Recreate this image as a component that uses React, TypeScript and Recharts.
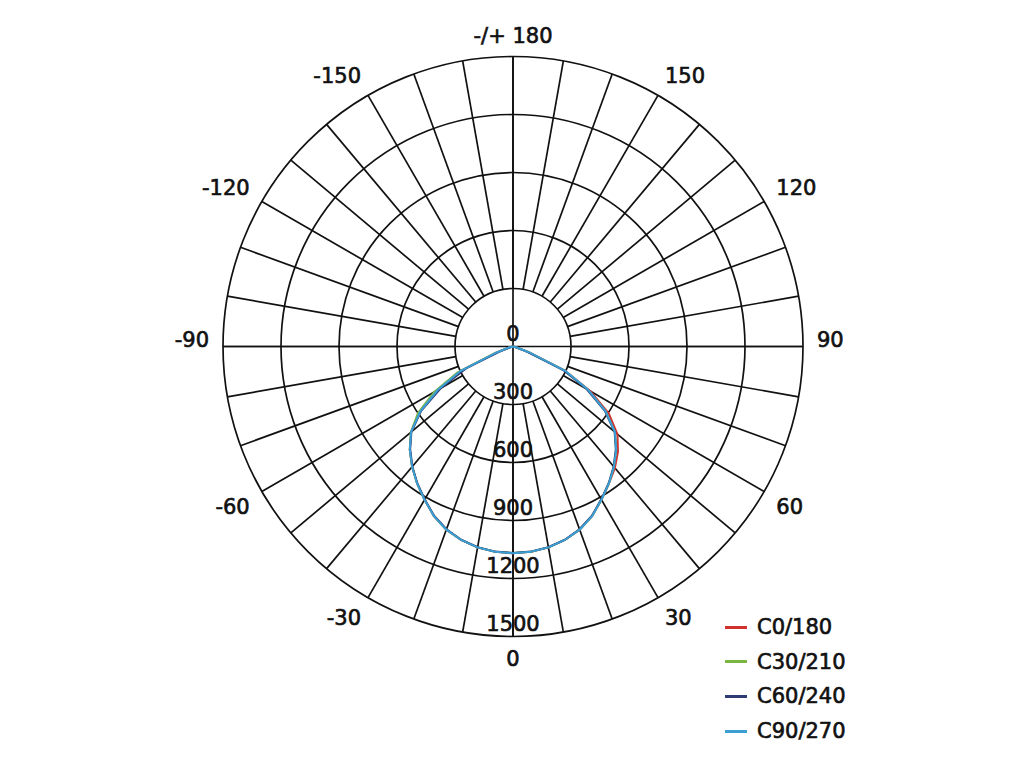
import React from 'react';
import { RadarChart, Radar, PolarGrid, PolarAngleAxis, PolarRadiusAxis, Legend } from 'recharts';

// Gamma angles (deg), every 5 degrees, -180 at top, 0 at bottom
const angles = [
  -180, -175, -170, -165, -160, -155, -150, -145, -140, -135, -130, -125,
  -120, -115, -110, -105, -100, -95, -90, -85, -80, -75, -70, -65,
  -60, -55, -50, -45, -40, -35, -30, -25, -20, -15, -10, -5,
  0, 5, 10, 15, 20, 25, 30, 35, 40, 45, 50, 55,
  60, 65, 70, 75, 80, 85, 90, 95, 100, 105, 110, 115,
  120, 125, 130, 135, 140, 145, 150, 155, 160, 165, 170, 175,
];

// Grid spokes every 10 degrees
const gridAngles = [
  -180, -170, -160, -150, -140, -130, -120, -110, -100, -90, -80, -70,
  -60, -50, -40, -30, -20, -10, 0, 10, 20, 30, 40, 50,
  60, 70, 80, 90, 100, 110, 120, 130, 140, 150, 160, 170,
];

const radiusTicks = [0, 300, 600, 900, 1200, 1500];
const ringTicks = [300, 600, 900, 1200, 1500];
const crossAngles = [-180, -90, 0, 90];

const angleLabelValues = [-180, -150, -120, -90, -60, -30, 0, 30, 60, 90, 120, 150];
const angleLabelText = ['-/+ 180', '-150', '-120', '-90', '-60', '-30', '0', '30', '60', '90', '120', '150'];

// Luminous intensity (cd/klm) per angle
const c0_180 = [
  0, 0, 0, 0, 0, 0, 0, 0, 0, 0, 0, 0, 0, 0, 0, 0, 0, 0,
  0, 0, 0, 20, 90, 300, 450, 585, 688, 755, 812, 865, 915, 968, 1008, 1036, 1055, 1066,
  1070,
  1066, 1055, 1036, 1008, 968, 915, 865, 820, 768, 705, 605, 462, 300, 90, 20, 0, 0, 0,
  0, 0, 0, 0, 0, 0, 0, 0, 0, 0, 0, 0, 0, 0, 0, 0, 0,
];
const c30_210 = [
  0, 0, 0, 0, 0, 0, 0, 0, 0, 0, 0, 0, 0, 0, 0, 0, 0, 0,
  0, 0, 0, 20, 100, 318, 472, 600, 690, 755, 812, 865, 915, 968, 1008, 1036, 1055, 1066,
  1068,
  1066, 1055, 1036, 1008, 968, 915, 865, 812, 755, 688, 585, 445, 295, 85, 20, 0, 0, 0,
  0, 0, 0, 0, 0, 0, 0, 0, 0, 0, 0, 0, 0, 0, 0, 0, 0,
];
const c60_240 = [
  0, 0, 0, 0, 0, 0, 0, 0, 0, 0, 0, 0, 0, 0, 0, 0, 0, 0,
  0, 0, 0, 10, 60, 268, 432, 580, 686, 752, 810, 863, 913, 966, 1006, 1035, 1054, 1065,
  1068,
  1065, 1054, 1035, 1006, 966, 913, 863, 810, 752, 686, 580, 440, 285, 70, 15, 0, 0, 0,
  0, 0, 0, 0, 0, 0, 0, 0, 0, 0, 0, 0, 0, 0, 0, 0, 0,
];
const c90_270 = [
  0, 0, 0, 0, 0, 0, 0, 0, 0, 0, 0, 0, 0, 0, 0, 0, 0, 0,
  0, 0, 0, 20, 90, 300, 450, 585, 688, 755, 812, 865, 915, 968, 1008, 1036, 1055, 1066,
  1070,
  1066, 1055, 1036, 1008, 968, 915, 865, 812, 755, 688, 585, 450, 300, 90, 20, 0, 0, 0,
  0, 0, 0, 0, 0, 0, 0, 0, 0, 0, 0, 0, 0, 0, 0, 0, 0,
];

const seriesKeys = ['c0', 'c30', 'c60', 'c90'];
const seriesNames = ['C0/180', 'C30/210', 'C60/240', 'C90/270'];
const seriesColors = ['#d0312d', '#7db543', '#2f3c73', '#3b9fd6'];

const data = angles.map((a, i) => ({
  angle: a,
  c0: c0_180[i],
  c30: c30_210[i],
  c60: c60_240[i],
  c90: c90_270[i],
}));
// helper field (inner ring value) so the grid chart has a series to build its axes from
const gridData = gridAngles.map((a) => ({ angle: a, ring: ringTicks[0] }));

const W = 1008;
const H = 752;
const CX = 505;
const CY = 338.5;
const R = 290;
const MAXV = radiusTicks[radiusTicks.length - 1];
const INNER = (R * ringTicks[0]) / MAXV;
const START = 90;
const STEP_B = 360 / angles.length;
const STEP_A = 360 / gridAngles.length;
const FONT = '"DejaVu Sans", sans-serif';
const INK = '#111';
const GRID = '#111';
const GRID_W = 1.7;
const TEXT_STROKE = 0.65;

const toChartAngle = (a: number) => START + (a - angles[0]);

const AngleTick = (props: any) => {
  const { x, y, payload } = props;
  const idx = angleLabelValues.indexOf(Number(payload.value));
  if (idx < 0) return <g />;
  const rad = (payload.coordinate * Math.PI) / 180;
  const ux = Math.cos(rad);
  const uy = -Math.sin(rad);
  const anchor = ux > 0.1 ? 'start' : ux < -0.1 ? 'end' : 'middle';
  const dy = uy > 0.1 ? 15.5 : 0;
  return (
    <text
      x={x}
      y={y + dy}
      textAnchor={anchor}
      fontFamily={FONT}
      fontSize={21}
      fill={INK}
      stroke={INK}
      strokeWidth={TEXT_STROKE}
    >
      {angleLabelText[idx]}
    </text>
  );
};

const RadiusTick = (props: any) => {
  const { x, y, payload } = props;
  return (
    <text
      x={x}
      y={y - 6}
      textAnchor="middle"
      fontFamily={FONT}
      fontSize={21}
      fill={INK}
      stroke={INK}
      strokeWidth={TEXT_STROKE}
    >
      {payload.value}
    </text>
  );
};

const LegendContent = (props: any) => {
  const payload = props.payload || [];
  return (
    <div style={{ fontFamily: FONT }}>
      {payload.map((e: any) => (
        <div key={e.value} style={{ display: 'flex', alignItems: 'center', height: 34.6 }}>
          <div style={{ width: 22, height: 3, background: e.color, marginRight: 10 }} />
          <span
            style={{
              fontSize: 21,
              color: INK,
              lineHeight: '24px',
              WebkitTextStroke: `${TEXT_STROKE}px ${INK}`,
            }}
          >
            {e.value}
          </span>
        </div>
      ))}
    </div>
  );
};

const margin = { top: 0, right: 0, bottom: 0, left: 0 };

export default function App() {
  return (
    <div style={{ position: 'relative', width: W, height: H, background: '#fff' }}>
      {/* grid + angle labels */}
      <div style={{ position: 'absolute', left: 0, top: 0 }}>
        <RadarChart
          width={W}
          height={H}
          data={gridData}
          cx={CX}
          cy={CY}
          innerRadius={INNER}
          outerRadius={R}
          startAngle={START + STEP_A}
          endAngle={START + STEP_A + 360}
          margin={margin}
        >
          <PolarGrid gridType="circle" stroke={GRID} strokeWidth={GRID_W} strokeOpacity={1} />
          <PolarAngleAxis dataKey="angle" tick={AngleTick} tickLine={false} axisLine={false} tickSize={14} />
          <PolarRadiusAxis
            type="number"
            domain={[ringTicks[0], MAXV]}
            ticks={ringTicks}
            tick={false}
            tickLine={false}
            axisLine={false}
          />
          <Radar
            dataKey="ring"
            stroke="none"
            fill="none"
            fillOpacity={0}
            dot={false}
            legendType="none"
            isAnimationActive={false}
          />
        </RadarChart>
      </div>
      {/* data curves */}
      <div style={{ position: 'absolute', left: 0, top: 0 }}>
        <RadarChart
          width={W}
          height={H}
          data={data}
          cx={CX}
          cy={CY}
          innerRadius={0}
          outerRadius={R}
          startAngle={START - STEP_B}
          endAngle={START - STEP_B + 360}
          margin={margin}
        >
          <PolarGrid
            gridType="circle"
            polarRadius={[]}
            polarAngles={crossAngles.map(toChartAngle)}
            stroke={GRID}
            strokeWidth={GRID_W}
            strokeOpacity={1}
          />
          <PolarAngleAxis dataKey="angle" tick={false} tickLine={false} axisLine={false} />
          <PolarRadiusAxis
            angle={-90}
            type="number"
            domain={[0, MAXV]}
            ticks={radiusTicks}
            tick={RadiusTick}
            tickLine={false}
            axisLine={false}
          />
          {seriesKeys.map((k, i) => (
            <Radar
              key={k}
              dataKey={k}
              name={seriesNames[i]}
              stroke={seriesColors[i]}
              strokeWidth={2}
              fill="none"
              fillOpacity={0}
              dot={false}
              isAnimationActive={false}
            />
          ))}
          <Legend
            layout="vertical"
            align="center"
            verticalAlign="middle"
            wrapperStyle={{ left: 717, top: 602, width: 220 }}
            content={LegendContent}
          />
        </RadarChart>
      </div>
    </div>
  );
}
